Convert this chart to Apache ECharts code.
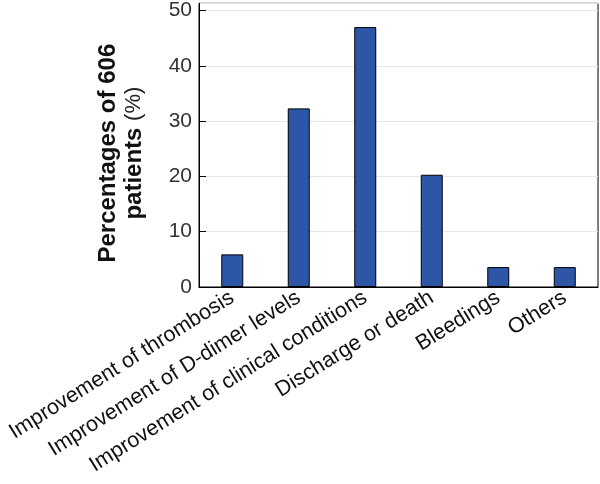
<!DOCTYPE html>
<html>
<head>
<meta charset="utf-8">
<script src="https://cdn.jsdelivr.net/npm/echarts@6/dist/echarts.min.js"></script>
<style>html,body{margin:0;padding:0;background:#fff}#c{width:600px;height:484px}</style>
</head>
<body>
<div id="c"></div>
<script>
const categories = ["Improvement of thrombosis","Improvement of D-dimer levels","Improvement of clinical conditions","Discharge or death","Bleedings","Others"];
const values = [5.9, 32.3, 47.0, 20.3, 3.6, 3.6];
const yTicks = [0, 10, 20, 30, 40, 50];

const FONT = '"Liberation Sans",Arial,sans-serif';
const chart = echarts.init(document.getElementById('c'), null, {renderer:'canvas'});
chart.setOption({
  animation: false,
  backgroundColor: '#fff',
  grid: {left: 199, right: 2, top: 1, bottom: 197, show: true, borderColor: '#000', borderWidth: 1, containLabel: false},
  xAxis: {
    type: 'category', data: categories,
    axisLine: {lineStyle: {color: '#000', width: 1}},
    axisTick: {show: false},
    axisLabel: {rotate: 32, interval: 0, fontSize: 21.5, color: '#111', fontFamily: FONT, margin: 9}
  },
  yAxis: {
    type: 'value', min: 0, max: 51.3, interval: 10,
    axisLine: {show: true, lineStyle: {color: '#000', width: 1}},
    axisTick: {show: true, inside: true, length: 7, lineStyle: {color: '#000'}},
    axisLabel: {fontSize: 21, color: '#333', fontFamily: FONT, margin: 7, showMaxLabel: false,
      formatter: v => yTicks.includes(v) ? String(v) : ''},
    splitLine: {show: true, lineStyle: {color: '#e6e6e6', width: 1}},
    name: '{b|Percentages of 606}\n{b|patients }{n|(%)}',
    nameLocation: 'middle', nameGap: 52, nameRotate: 90,
    nameTextStyle: {
      align: 'center',
      padding: [0, 16, 0, 0],
      rich: {
        b: {fontSize: 24, fontWeight: 'bold', color: '#111', fontFamily: FONT, lineHeight: 26},
        n: {fontSize: 22, fontWeight: 'normal', color: '#222', fontFamily: FONT, lineHeight: 26}
      }
    }
  },
  series: [{
    type: 'bar', data: values, barWidth: 22,
    itemStyle: {color: '#2D56A6', borderColor: '#000', borderWidth: 1}
  }]
});
</script>
</body>
</html>
